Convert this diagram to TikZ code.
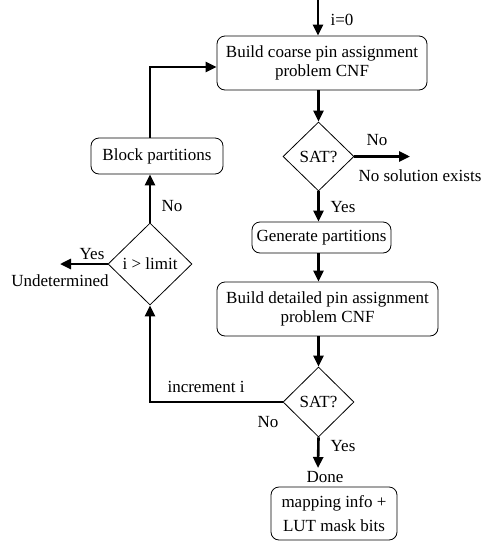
\documentclass[tikz,border=0pt]{standalone}
\usepackage{fontspec}
\setmainfont{Liberation Serif}
\usetikzlibrary{shapes.geometric,arrows.meta}
\begin{document}
\begin{tikzpicture}[x=1pt,y=-1pt,
  every node/.style={font=\fontsize{17}{18.8}\selectfont},
  procbox/.style={draw,rounded corners=8pt,line width=0.8pt,align=center,inner sep=0pt},
  decision/.style={draw,diamond,line width=0.8pt,inner sep=0pt},
  flow/.style={line width=2.6pt,-{Triangle[length=11pt,width=10pt]}},
  lbl/.style={inner sep=0pt}]
\useasboundingbox (0,0) rectangle (484,542);
\node[procbox,minimum width=210pt,minimum height=54pt] (b1) at (322,63) {Build coarse pin assignment\\problem CNF};
\node[decision,minimum width=71pt,minimum height=69pt] (d1) at (318.5,156.5) {SAT?};
\node[procbox,minimum width=139pt,minimum height=31pt] (b2) at (321.5,237.5) {Generate partitions};
\node[procbox,minimum width=221pt,minimum height=54pt] (b3) at (327.5,309) {Build detailed pin assignment\\problem CNF};
\node[decision,minimum width=71pt,minimum height=70pt] (d2) at (318.5,402) {SAT?};
\node[procbox,minimum width=126pt,minimum height=53pt,font=\fontsize{17}{24}\selectfont] (b4) at (334,513.5) {mapping info +\\LUT mask bits};
\node[procbox,minimum width=132pt,minimum height=36pt] (b5) at (157,156) {Block partitions};
\node[decision,minimum width=84pt,minimum height=82pt] (d3) at (150,264) {i > limit};

\coordinate (start) at (318,0);
\coordinate (nosol) at (410,156.5);
\coordinate (undet) at (60,264);
\coordinate (done) at (318,468);
\coordinate (corner1) at (150,402);
\coordinate (corner2) at (150,67);

\draw[flow] (start) -- (start |- b1.north);
\draw[flow] (d1.north |- b1.south) -- (d1.north);
\draw[flow] (d1.east) -- (nosol);
\draw[flow] (d1.south) -- (d1.south |- b2.north);
\draw[flow] (d1.south |- b2.south) -- (d1.south |- b3.north);
\draw[flow] (d2.north |- b3.south) -- (d2.north);
\draw[flow] (d2.south) -- (done);
\draw[flow] (d2.west) -- (corner1) -- (d3.south);
\draw[flow] (d3.west) -- (undet);
\draw[flow] (d3.north) -- (d3.north |- b5.south);
\draw[flow] (d3.north |- b5.north) -- (corner2) -- (b1.west |- corner2);

\node[lbl] at (342,20) {i=0};
\node[lbl] at (377,140) {No};
\node[lbl] at (420,176) {No solution exists};
\node[lbl] at (343,207) {Yes};
\node[lbl] at (172,206) {No};
\node[lbl] at (92,254) {Yes};
\node[lbl] at (60,281) {Undetermined};
\node[lbl] at (206,387) {increment i};
\node[lbl] at (268,422) {No};
\node[lbl] at (343,446) {Yes};
\node[lbl] at (325,477) {Done};
\end{tikzpicture}
\end{document}
